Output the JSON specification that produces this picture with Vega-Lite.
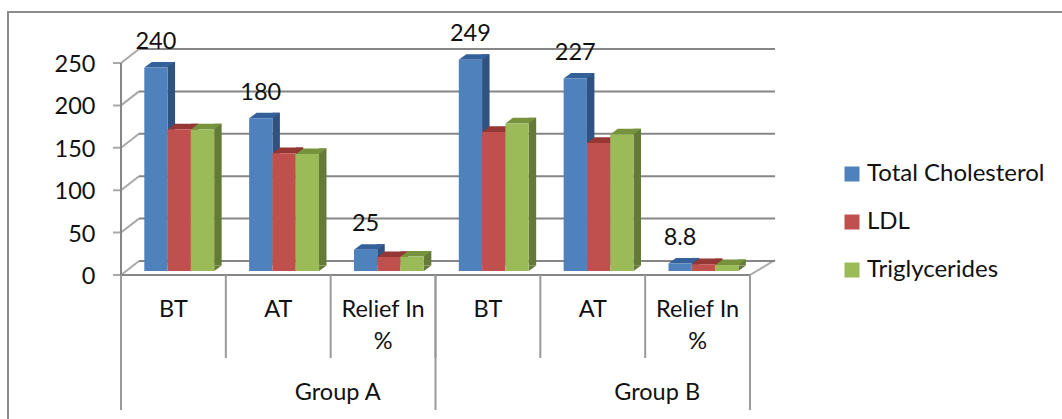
{
  "$schema": "https://vega.github.io/schema/vega-lite/v6.json",
  "width": 1070,
  "height": 440,
  "padding": {"left": 8, "top": 12, "right": 0, "bottom": 0},
  "autosize": "none",
  "background": "white",
  "view": {"stroke": "#8c8c8c", "strokeWidth": 2, "fill": "white"},
  "config": {"font": "Lato", "text": {"font": "Lato", "fontSize": 23.5, "color": "#111111"}},
  "datasets": {
    "bars": [
      {"group": "Group A", "period": "BT", "key": "A-BT", "series": "Total Cholesterol", "value": 240, "note": "240"},
      {"group": "Group A", "period": "BT", "key": "A-BT", "series": "LDL", "value": 167},
      {"group": "Group A", "period": "BT", "key": "A-BT", "series": "Triglycerides", "value": 167},
      {"group": "Group A", "period": "AT", "key": "A-AT", "series": "Total Cholesterol", "value": 180, "note": "180"},
      {"group": "Group A", "period": "AT", "key": "A-AT", "series": "LDL", "value": 139},
      {"group": "Group A", "period": "AT", "key": "A-AT", "series": "Triglycerides", "value": 138},
      {"group": "Group A", "period": "Relief In %", "key": "A-RI", "series": "Total Cholesterol", "value": 25, "note": "25"},
      {"group": "Group A", "period": "Relief In %", "key": "A-RI", "series": "LDL", "value": 16.5},
      {"group": "Group A", "period": "Relief In %", "key": "A-RI", "series": "Triglycerides", "value": 17},
      {"group": "Group B", "period": "BT", "key": "B-BT", "series": "Total Cholesterol", "value": 249, "note": "249"},
      {"group": "Group B", "period": "BT", "key": "B-BT", "series": "LDL", "value": 164},
      {"group": "Group B", "period": "BT", "key": "B-BT", "series": "Triglycerides", "value": 174},
      {"group": "Group B", "period": "AT", "key": "B-AT", "series": "Total Cholesterol", "value": 227, "note": "227"},
      {"group": "Group B", "period": "AT", "key": "B-AT", "series": "LDL", "value": 151},
      {"group": "Group B", "period": "AT", "key": "B-AT", "series": "Triglycerides", "value": 161},
      {"group": "Group B", "period": "Relief In %", "key": "B-RI", "series": "Total Cholesterol", "value": 8.8, "note": "8.8"},
      {"group": "Group B", "period": "Relief In %", "key": "B-RI", "series": "LDL", "value": 8},
      {"group": "Group B", "period": "Relief In %", "key": "B-RI", "series": "Triglycerides", "value": 7}
    ],
    "ticks": [{"tick": 0}, {"tick": 50}, {"tick": 100}, {"tick": 150}, {"tick": 200}, {"tick": 250}],
    "periods": [
      {"key": "A-BT", "label": "BT", "floor": 0}, {"key": "A-AT", "label": "AT", "floor": 0}, {"key": "A-RI", "label": "Relief In\n%", "floor": 0},
      {"key": "B-BT", "label": "BT", "floor": 0}, {"key": "B-AT", "label": "AT", "floor": 0}, {"key": "B-RI", "label": "Relief In\n%", "floor": 0}
    ],
    "groups": [{"key": "A-RI", "label": "Group A", "floor": 0}, {"key": "B-RI", "label": "Group B", "floor": 0}]
  },
  "encoding": {
    "x": {
      "field": "key", "type": "nominal", "title": null, "axis": null,
      "scale": {"domain": ["A-BT", "A-AT", "A-RI", "B-BT", "B-AT", "B-RI"], "range": [113, 742], "paddingInner": 0, "paddingOuter": 0}
    },
    "y": {
      "field": "value", "type": "quantitative", "title": null, "axis": null,
      "scale": {"domain": [0, 250], "range": [263, 51], "nice": false, "zero": true}
    }
  },
  "layer": [
    {
      "data": {"name": "ticks"},
      "mark": {"type": "rule", "color": "#868686", "strokeWidth": 2, "xOffset": 18, "x2Offset": 25, "yOffset": -14},
      "encoding": {
        "x": {"datum": "A-BT", "bandPosition": 0},
        "x2": {"datum": "B-RI", "bandPosition": 1},
        "y": {"field": "tick", "type": "quantitative"}
      }
    },
    {
      "data": {"name": "ticks"},
      "mark": {"type": "point", "shape": "M-8 0L0 0L18 -14", "size": 4, "filled": false, "stroke": "#868686", "strokeWidth": 2},
      "encoding": {
        "x": {"datum": "A-BT", "bandPosition": 0},
        "y": {"field": "tick", "type": "quantitative"}
      }
    },
    {
      "data": {"name": "ticks"},
      "mark": {"type": "text", "align": "right", "baseline": "middle", "xOffset": -25.5, "yOffset": 2},
      "encoding": {
        "x": {"datum": "A-BT", "bandPosition": 0},
        "y": {"field": "tick", "type": "quantitative"},
        "text": {"field": "tick", "type": "quantitative"}
      }
    },
    {
      "data": {"name": "ticks"},
      "transform": [{"filter": "datum.tick === 0"}],
      "layer": [
        {
          "mark": {"type": "rule", "color": "#868686", "strokeWidth": 2},
          "encoding": {
            "x": {"datum": "A-BT", "bandPosition": 0},
            "x2": {"datum": "B-RI", "bandPosition": 1},
            "y": {"field": "tick", "type": "quantitative"}
          }
        },
        {
          "mark": {"type": "point", "shape": "M0 0L25 -15", "size": 4, "filled": false, "stroke": "#868686", "strokeWidth": 2},
          "encoding": {
            "x": {"datum": "B-RI", "bandPosition": 1},
            "y": {"field": "tick", "type": "quantitative"}
          }
        }
      ]
    },
    {
      "data": {"name": "ticks"},
      "transform": [{"filter": "datum.tick === 250"}],
      "mark": {"type": "rule", "color": "#868686", "strokeWidth": 2},
      "encoding": {
        "x": {"datum": "A-BT", "bandPosition": 0},
        "y": {"field": "tick", "type": "quantitative"},
        "y2": {"datum": 0}
      }
    },
    {
      "data": {"name": "periods"},
      "mark": {"type": "rule", "color": "#9a9a9a", "strokeWidth": 2, "y2Offset": 83},
      "encoding": {
        "x": {"field": "key", "type": "nominal", "bandPosition": 0},
        "y": {"field": "floor", "type": "quantitative"},
        "y2": {"field": "floor"}
      }
    },
    {
      "data": {"name": "groups"},
      "mark": {"type": "rule", "color": "#9a9a9a", "strokeWidth": 2, "y2Offset": 135},
      "encoding": {
        "x": {"field": "key", "type": "nominal", "bandPosition": 1},
        "y": {"field": "floor", "type": "quantitative"},
        "y2": {"field": "floor"}
      }
    },
    {
      "data": {"name": "periods"},
      "transform": [{"filter": "datum.key === 'A-BT'"}],
      "mark": {"type": "rule", "color": "#9a9a9a", "strokeWidth": 2, "y2Offset": 135},
      "encoding": {
        "x": {"field": "key", "type": "nominal", "bandPosition": 0},
        "y": {"field": "floor", "type": "quantitative"},
        "y2": {"field": "floor"}
      }
    },
    {
      "data": {"name": "periods"},
      "mark": {"type": "text", "lineBreak": "\n", "baseline": "alphabetic", "align": "center", "yOffset": 42, "lineHeight": 32},
      "encoding": {
        "x": {"field": "key", "type": "nominal"},
        "y": {"field": "floor", "type": "quantitative"},
        "text": {"field": "label"}
      }
    },
    {
      "data": {"name": "groups"},
      "transform": [{"filter": "datum.label === 'Group A'"}],
      "mark": {"type": "text", "baseline": "alphabetic", "align": "center", "xOffset": 7, "yOffset": 125},
      "encoding": {
        "x": {"field": "key", "type": "nominal", "bandPosition": 0},
        "y": {"field": "floor", "type": "quantitative"},
        "text": {"field": "label"}
      }
    },
    {
      "data": {"name": "groups"},
      "transform": [{"filter": "datum.label === 'Group B'"}],
      "mark": {"type": "text", "baseline": "alphabetic", "align": "center", "xOffset": 12, "yOffset": 125},
      "encoding": {
        "x": {"field": "key", "type": "nominal", "bandPosition": 0},
        "y": {"field": "floor", "type": "quantitative"},
        "text": {"field": "label"}
      }
    },
    {
      "data": {"name": "bars"},
      "transform": [{"filter": "datum.series === 'Total Cholesterol'"}],
      "layer": [
        {
          "mark": {"type": "rule", "strokeWidth": 7.5, "color": "#2f5280", "xOffset": -2.1, "yOffset": -9.6, "y2Offset": -9.6},
          "encoding": {"y2": {"datum": 0}}
        },
        {
          "mark": {"type": "point", "shape": "M-11.67 0L-4.17 -5.6L19.17 -5.6L11.67 0Z", "size": 4, "filled": true, "opacity": 1, "fill": "#34619a", "strokeWidth": 0, "xOffset": -17.5, "yOffset": -4}
        }
      ]
    },
    {
      "data": {"name": "bars"},
      "transform": [{"filter": "datum.series === 'LDL'"}],
      "layer": [
        {
          "mark": {"type": "rule", "strokeWidth": 7.5, "color": "#7f2f2d", "xOffset": 21.2, "yOffset": -9.6, "y2Offset": -9.6},
          "encoding": {"y2": {"datum": 0}}
        },
        {
          "mark": {"type": "point", "shape": "M-11.67 0L-4.17 -5.6L19.17 -5.6L11.67 0Z", "size": 4, "filled": true, "opacity": 1, "fill": "#953735", "strokeWidth": 0, "xOffset": 5.83, "yOffset": -4}
        }
      ]
    },
    {
      "data": {"name": "bars"},
      "transform": [{"filter": "datum.series === 'Triglycerides'"}],
      "layer": [
        {
          "mark": {"type": "rule", "strokeWidth": 7.5, "color": "#657a39", "xOffset": 44.5, "yOffset": -9.6, "y2Offset": -9.6},
          "encoding": {"y2": {"datum": 0}}
        },
        {
          "mark": {"type": "point", "shape": "M11.67 0L11.67 -5.6L19.17 -5.6Z", "size": 4, "filled": true, "opacity": 1, "fill": "#657a39", "strokeWidth": 0, "xOffset": 29.17, "yOffset": -4},
          "encoding": {"y": {"datum": 0}}
        },
        {
          "mark": {"type": "point", "shape": "M-11.67 0L-4.17 -5.6L19.17 -5.6L11.67 0Z", "size": 4, "filled": true, "opacity": 1, "fill": "#76923c", "strokeWidth": 0, "xOffset": 29.17, "yOffset": -4}
        }
      ]
    },
    {
      "data": {"name": "bars"},
      "mark": {"type": "bar", "yOffset": -4, "y2Offset": -4},
      "encoding": {
        "xOffset": {
          "field": "series", "type": "nominal",
          "scale": {"domain": ["Total Cholesterol", "LDL", "Triglycerides"], "paddingInner": 0, "paddingOuter": 0.75, "align": 0.667}
        },
        "y2": {"datum": 0},
        "color": {
          "field": "series", "type": "nominal",
          "scale": {"domain": ["Total Cholesterol", "LDL", "Triglycerides"], "range": ["#4f81bd", "#c0504d", "#9bbb59"]},
          "legend": {
            "title": null, "orient": "none", "legendX": 832, "legendY": 150,
            "symbolType": "square", "symbolSize": 225, "symbolStrokeWidth": 0, "symbolOpacity": 1,
            "labelFont": "Lato", "labelFontSize": 24, "labelColor": "#111111", "labelOffset": 3, "labelLimit": 300, "rowPadding": 24
          }
        }
      }
    },
    {
      "data": {"name": "bars"},
      "transform": [{"filter": "isValid(datum.note)"}],
      "mark": {"type": "text", "baseline": "alphabetic", "align": "center", "xOffset": -17.5, "yOffset": -22.5},
      "encoding": {"text": {"field": "note"}}
    }
  ]
}
